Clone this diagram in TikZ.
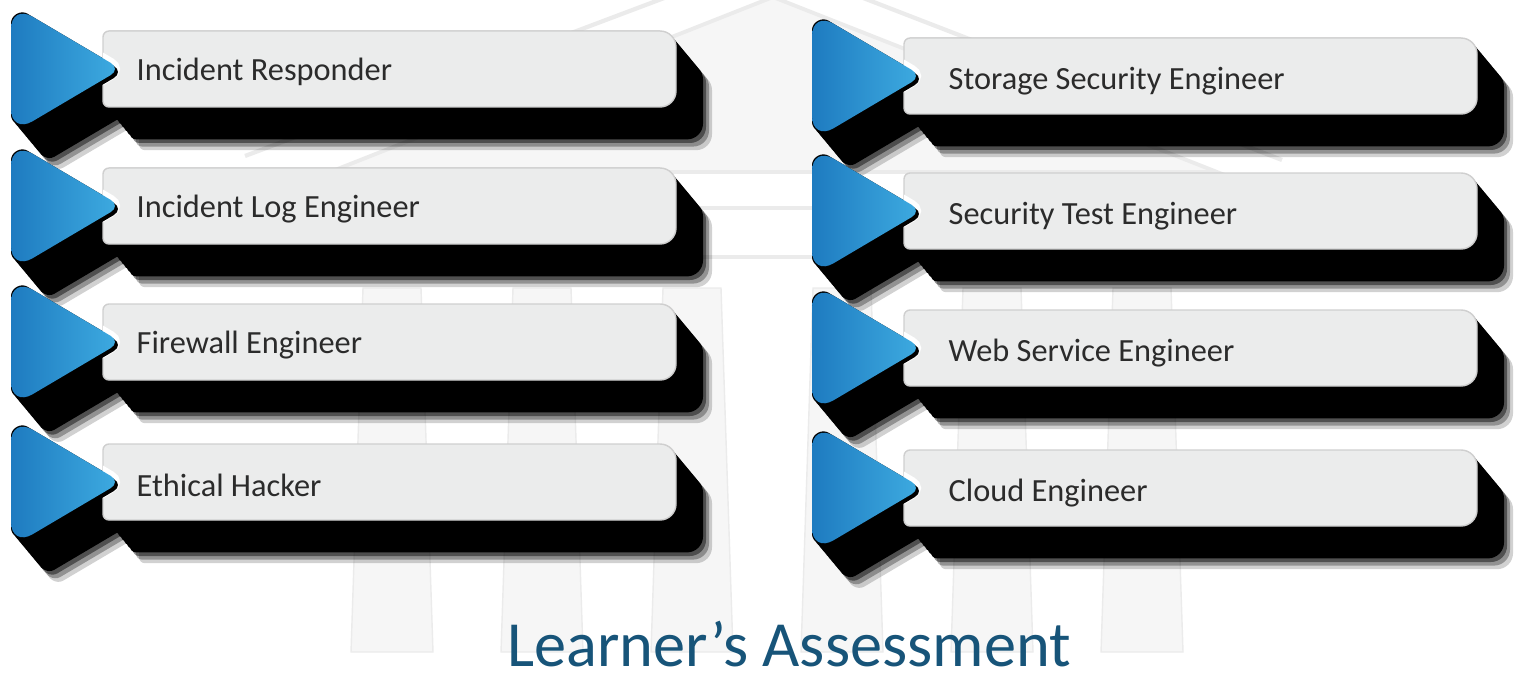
\documentclass[tikz,border=0pt]{standalone}
\usepackage{fontspec}
\setmainfont{Carlito}
\usepackage{tikz}
\definecolor{roleBlueDark}{HTML}{1E7BC0}
\definecolor{roleBlueLight}{HTML}{3DAAE0}
\definecolor{roleBox}{HTML}{EBECEC}
\definecolor{roleEdge}{HTML}{CFCFCF}
\definecolor{roleText}{HTML}{2B2B2B}
\definecolor{bgFill}{HTML}{F6F6F6}
\definecolor{bgLine}{HTML}{EBEBEB}
\definecolor{titleBlue}{HTML}{175479}
% card outline and arrow tab, #1 = x offset, #2 = y of the row
\newcommand{\rolebox}[2]{(#1+103,#2) [rounded corners=0.06cm] |- (#1+400,#2-38) [rounded corners=0.16cm] -| (#1+676,#2) |- (#1+400,#2+38) [rounded corners=0.06cm] -| (#1+103,#2+5) -- cycle}
\newcommand{\roletri}[2]{(#1+11,#2) -- (#1+11,#2-40) .. controls (#1+11,#2-53.75) and (#1+20.7,#2-59.3) .. (#1+32.5,#2-52.3) -- (#1+110.7,#2-6.1) .. controls (#1+116.4,#2-2.7) and (#1+116.4,#2+2.7) .. (#1+110.7,#2+6.1) -- (#1+32.5,#2+52.3) .. controls (#1+20.7,#2+59.3) and (#1+11,#2+53.75) .. (#1+11,#2+40) -- cycle}

\begin{document}
\begin{tikzpicture}[x=0.01cm, y=-0.01cm,
  roletext/.style={font=\fontsize{9.2}{11}\selectfont, text=roleText, anchor=west, inner sep=0pt},
  roletitle/.style={font=\fontsize{18.3}{22}\selectfont, text=titleBlue, inner sep=0pt},
  column/.style={fill=bgFill, draw=bgLine, line width=0.4pt}]
\useasboundingbox (0,0) rectangle (1516,679);
% building in the back
\draw[bgLine, line width=1.2pt] (245,156) -- (765,-40) -- (1282,160);
\filldraw[fill=bgFill, draw=bgLine, line width=1.1pt] (330,172) -- (773,-3) -- (1217,172) -- cycle;
\draw[bgLine, line width=1pt] (330,208) -- (1217,208) (330,257) -- (1217,257);
\foreach \cx in {392,542,692,842,992,1142}
  {\path[column] (\cx-29,288) -- (\cx+29,288) -- (\cx+41,652) -- (\cx-41,652) -- cycle;}
% long shadows
\foreach \x/\c in {0/69,0/206,0/342,0/482,801/76,801/211,801/348,801/488}
{
  \foreach \k in {0,...,9}
    {\fill[black, shift={(3*\k,3.6*\k)}] \rolebox{\x}{\c} \roletri{\x}{\c};}
  \foreach \k/\o in {10/0.45,11/0.3,12/0.18}
    {\fill[black, opacity=\o, shift={(3*\k,3.6*\k)}] \rolebox{\x}{\c} \roletri{\x}{\c};}
}
% role cards
\foreach \n/\x/\c/\tx/\dy/\lbl in {1/0/69/136/3/Incident Responder,2/0/206/136/3/Incident Log Engineer,3/0/342/136/3/Firewall Engineer,4/0/482/136/3/Ethical Hacker,5/801/76/147/5/Storage Security Engineer,6/801/211/147/5/Security Test Engineer,7/801/348/147/5/Web Service Engineer,8/801/488/147/5/Cloud Engineer}
{
  \filldraw[fill=roleBox, draw=roleEdge, line width=0.4pt] \rolebox{\x}{\c};
  \begin{scope}
    \clip \rolebox{\x}{\c};
    \draw[white, line width=0.1cm] \roletri{\x}{\c};
  \end{scope}
  \fill[black, shift={(3,3)}] \roletri{\x}{\c};
  \path[left color=roleBlueDark, right color=roleBlueLight] \roletri{\x}{\c};
  \node[roletext] (role\n) at (\x+\tx,\c+\dy) {\lbl};
}
\node[roletitle, anchor=base] (title) at (789,666) {Learner’s Assessment};
\end{tikzpicture}
\end{document}
